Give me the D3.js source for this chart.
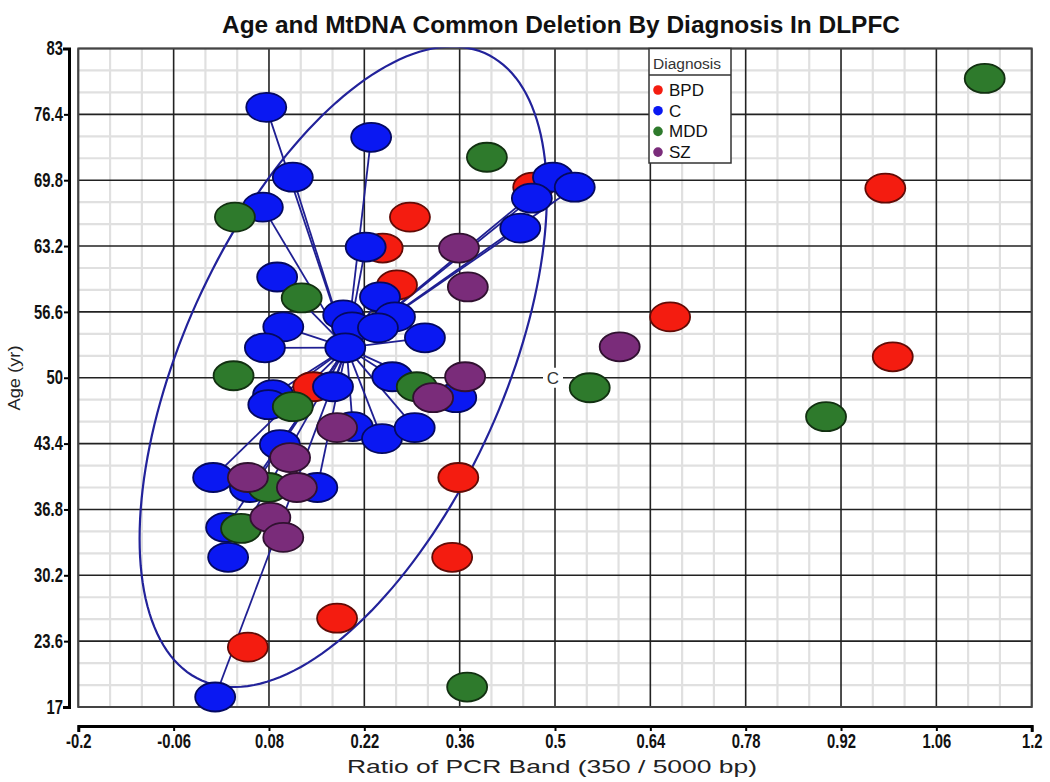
<!DOCTYPE html>
<html><head><meta charset="utf-8">
<script src="https://cdn.jsdelivr.net/npm/d3@7"></script>
<style>
html,body{margin:0;padding:0;background:#fff;}
svg{display:block;}
</style></head>
<body>
<svg id="chart" width="1050" height="782"></svg>
<script>
// ---------- data ----------
const diagnoses = ["BPD", "C", "MDD", "SZ"];
const diagnosisColors = ["#f41c10", "#0a18f2", "#2e7a2c", "#7a2c7a"];

const bpdRatio = [0.985, 0.669, 0.996, 0.358, 0.349, 0.180, 0.049, 0.287, 0.268, 0.247, 0.468, 0.145];
const bpdAge   = [69.0, 56.1, 52.1, 40.0, 32.0, 25.9, 23.0, 66.1, 59.3, 63.0, 69.1, 49.1];

const cRatio = [0.076, 0.230, 0.115, 0.071, 0.497, 0.529, 0.466, 0.449, 0.222, 0.092, 0.243, 0.189,
                0.265, 0.202, 0.240, 0.101, 0.074, 0.192, 0.309, 0.261, 0.174, 0.086, 0.079, 0.355,
                0.203, 0.246, 0.294, 0.096, -0.002, 0.052, 0.151, 0.017, 0.020, 0.001];
const cAge   = [77.1, 74.1, 70.1, 67.1, 70.1, 69.1, 68.0, 65.0, 63.1, 60.1, 58.1, 56.3,
                56.1, 55.1, 55.0, 55.1, 53.0, 53.0, 54.0, 50.1, 49.1, 48.3, 47.3, 48.0,
                45.1, 43.9, 45.0, 43.3, 40.0, 39.0, 39.0, 35.0, 32.0, 18.0];

const mddRatio = [1.131, 0.400, 0.030, 0.128, 0.028, 0.297, 0.115, 0.079, 0.039, 0.551, 0.898, 0.371];
const mddAge   = [80.0, 72.1, 66.1, 58.0, 50.2, 49.1, 47.1, 39.0, 34.9, 49.0, 46.1, 19.0];

const szRatio = [0.595, 0.359, 0.372, 0.368, 0.321, 0.180, 0.111, 0.049, 0.121, 0.082, 0.101];
const szAge   = [53.1, 63.0, 59.1, 50.1, 48.0, 45.0, 42.0, 40.0, 39.0, 36.0, 34.0];

// ellipse drawn around group C: centre [ratio, age], conjugate semi-diameters
const ellipseCenter = [0.189, 51.1];
const ellipseRadii  = [0.299, 17.2, 27.1]; // x radius, age·cos, age·sin

const xTickValues = [-0.2, -0.06, 0.08, 0.22, 0.36, 0.5, 0.64, 0.78, 0.92, 1.06, 1.2];
const xTickLabels = ["-0.2", "-0.06", "0.08", "0.22", "0.36", "0.5", "0.64", "0.78", "0.92", "1.06", "1.2"];
const yTickValues = [17, 23.6, 30.2, 36.8, 43.4, 50, 56.6, 63.2, 69.8, 76.4, 83];
const yTickLabels = ["17", "23.6", "30.2", "36.8", "43.4", "50", "56.6", "63.2", "69.8", "76.4", "83"];

const chartTitle = "Age and MtDNA Common Deletion By Diagnosis In DLPFC";
const xTitle = "Ratio of PCR Band (350 / 5000 bp)";
const yTitle = "Age (yr)";
const legendTitle = "Diagnosis";
const groupLabel = ["C", 0.5, 50];

// ---------- build ----------
const groups = [
  {name: "BPD", x: bpdRatio, y: bpdAge},
  {name: "C",   x: cRatio,   y: cAge},
  {name: "MDD", x: mddRatio, y: mddAge},
  {name: "SZ",  x: szRatio,  y: szAge}
].map(g => ({...g, color: diagnosisColors[diagnoses.indexOf(g.name)],
  pts: g.x.map((v, i) => ({x: v, y: g.y[i]}))}));

const svg = d3.select("#chart");
const L = 78.3, R = 1031.7, T = 48.5, B = 707;
const x = d3.scaleLinear().domain([-0.2, 1.2]).range([L, R]);
const y = d3.scaleLinear().domain([17, 83]).range([B, T]);

svg.append("defs").append("clipPath").attr("id", "plotclip")
  .append("rect").attr("x", L).attr("y", T - 1).attr("width", R - L).attr("height", B - T + 1);

// minor grid
const minorX = [], minorY = [];
for (let i = 0; i < xTickValues.length - 1; i++) {
  const a = xTickValues[i], b = xTickValues[i + 1];
  minorX.push(a + (b - a) / 3, a + 2 * (b - a) / 3);
}
for (let i = 0; i < yTickValues.length - 1; i++) {
  const a = yTickValues[i], b = yTickValues[i + 1];
  minorY.push(a + (b - a) / 3, a + 2 * (b - a) / 3);
}
const grid = svg.append("g");
grid.selectAll(".mx").data(minorX).join("line")
  .attr("x1", d => x(d)).attr("x2", d => x(d)).attr("y1", T).attr("y2", B)
  .attr("stroke", "#e0e0e0").attr("stroke-width", 2.2);
grid.selectAll(".my").data(minorY).join("line")
  .attr("y1", d => y(d)).attr("y2", d => y(d)).attr("x1", L).attr("x2", R)
  .attr("stroke", "#e0e0e0").attr("stroke-width", 2.2);
grid.selectAll(".Mx").data(xTickValues).join("line")
  .attr("x1", d => x(d)).attr("x2", d => x(d)).attr("y1", T).attr("y2", B)
  .attr("stroke", "#222").attr("stroke-width", 1.6);
grid.selectAll(".My").data(yTickValues).join("line")
  .attr("y1", d => y(d)).attr("y2", d => y(d)).attr("x1", L).attr("x2", R)
  .attr("stroke", "#222").attr("stroke-width", 1.6);
svg.append("rect").attr("x", L).attr("y", T).attr("width", R - L).attr("height", B - T)
  .attr("fill", "none").attr("stroke", "#444").attr("stroke-width", 2);

// "C" group label with white backing
const gl = svg.append("g");
gl.append("rect").attr("x", x(groupLabel[1]) - 12).attr("y", y(groupLabel[2]) - 10)
  .attr("width", 20).attr("height", 20).attr("fill", "#fff");
gl.append("text").attr("x", x(groupLabel[1]) - 2).attr("y", y(groupLabel[2]) + 6)
  .attr("text-anchor", "middle").attr("font-family", "Liberation Sans, Arial, sans-serif")
  .attr("font-size", 17).attr("fill", "#333").text(groupLabel[0]);

// ellipse + star lines for group C
const plot = svg.append("g").attr("clip-path", "url(#plotclip)");
const ell = d3.range(0, 361, 2).map(t => {
  const r = t * Math.PI / 180;
  return [x(ellipseCenter[0] + ellipseRadii[0] * Math.cos(r)),
          y(ellipseCenter[1] + ellipseRadii[1] * Math.cos(r) + ellipseRadii[2] * Math.sin(r))];
});
plot.append("path").attr("d", d3.line()(ell) + "Z")
  .attr("fill", "none").attr("stroke", "#22229a").attr("stroke-width", 2.2);

const cg = groups.find(g => g.name === "C");
const cx0 = d3.mean(cg.pts, d => d.x), cy0 = d3.mean(cg.pts, d => d.y);
plot.selectAll(".star").data(cg.pts).join("line")
  .attr("x1", x(cx0)).attr("y1", y(cy0))
  .attr("x2", d => x(d.x)).attr("y2", d => y(d.y))
  .attr("stroke", "#1f1f92").attr("stroke-width", 1.8);

// points
groups.forEach(g => {
  svg.append("g").selectAll("ellipse").data(g.pts).join("ellipse")
    .attr("cx", d => x(d.x)).attr("cy", d => y(d.y))
    .attr("rx", 20).attr("ry", 14.5)
    .attr("fill", g.color)
    .attr("stroke", d3.color(g.color).darker(2.6))
    .attr("stroke-width", 1.8);
});

// legend
const lg = svg.append("g");
lg.append("rect").attr("x", 649).attr("y", T).attr("width", 82).attr("height", 114.5)
  .attr("fill", "#fff").attr("stroke", "#333").attr("stroke-width", 1.5);
lg.append("line").attr("x1", 649).attr("x2", 731).attr("y1", 75).attr("y2", 75)
  .attr("stroke", "#333").attr("stroke-width", 1.5);
lg.append("text").attr("x", 653).attr("y", 69).attr("font-family", "Liberation Sans, Arial, sans-serif")
  .attr("font-size", 15.5).attr("fill", "#333").text(legendTitle);
diagnoses.forEach((d, i) => {
  const cy = 90 + i * 20.7;
  lg.append("circle").attr("cx", 658).attr("cy", cy).attr("r", 4.8).attr("fill", diagnosisColors[i]);
  lg.append("text").attr("x", 669).attr("y", cy + 6).attr("font-family", "Liberation Sans, Arial, sans-serif")
    .attr("font-size", 17).attr("fill", "#111").text(d);
});

// axes
const tickFont = "'Liberation Sans', Arial, sans-serif";
const yAxis = svg.append("g").attr("transform", "translate(69,0)")
  .call(d3.axisLeft(y).tickValues(yTickValues).tickFormat((d, i) => yTickLabels[i])
    .tickSize(5).tickSizeOuter(6).tickPadding(3));
const xAxis = svg.append("g").attr("transform", "translate(0,726)")
  .call(d3.axisBottom(x).tickValues(xTickValues).tickFormat((d, i) => xTickLabels[i])
    .tickSize(5).tickSizeOuter(6).tickPadding(3));
[yAxis, xAxis].forEach(a => {
  a.select(".domain").attr("stroke", "#000").attr("stroke-width", 3);
  a.selectAll(".tick line").attr("stroke", "#000").attr("stroke-width", 2);
  a.selectAll("text").attr("font-family", tickFont).attr("font-weight", "bold")
    .attr("font-size", 19.5).attr("fill", "#111").attr("transform", "scale(0.76,1)");
});

// titles
svg.append("text").attr("x", 561).attr("y", 33).attr("text-anchor", "middle")
  .attr("font-family", "Liberation Sans, Arial, sans-serif").attr("font-weight", "bold")
  .attr("font-size", 23).attr("textLength", 678).attr("lengthAdjust", "spacingAndGlyphs")
  .attr("fill", "#111").text(chartTitle);
svg.append("text").attr("x", 552).attr("y", 773).attr("text-anchor", "middle")
  .attr("font-family", "Liberation Sans, Arial, sans-serif")
  .attr("font-size", 19).attr("textLength", 410).attr("lengthAdjust", "spacingAndGlyphs")
  .attr("fill", "#222").text(xTitle);
svg.append("text").attr("transform", "translate(20,378) rotate(-90)").attr("text-anchor", "middle")
  .attr("font-family", "Liberation Sans, Arial, sans-serif")
  .attr("font-size", 17).attr("textLength", 65).attr("lengthAdjust", "spacingAndGlyphs")
  .attr("fill", "#222").text(yTitle);
</script>
</body></html>
